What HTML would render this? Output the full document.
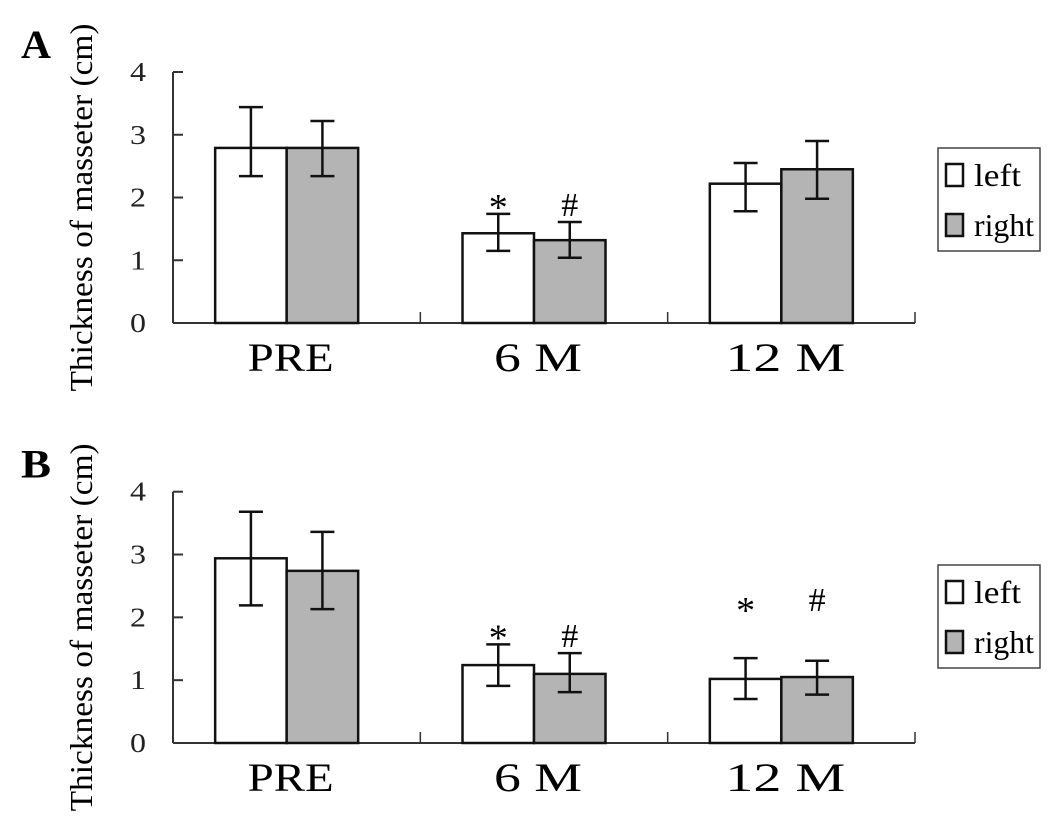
<!DOCTYPE html>
<html><head><meta charset="utf-8"><style>
html,body{margin:0;padding:0;background:#fff}
svg{display:block;font-family:"Liberation Serif",serif}
</style></head><body>
<svg id="chart" width="1048" height="826" viewBox="0 0 1048 826"></svg>
<script>
const categories = ["PRE","6 M","12 M"];
const aLeft = [2.79, 1.43, 2.22];
const aLeftErr = [[2.34,3.44],[1.15,1.74],[1.78,2.55]];
const aRight = [2.79, 1.32, 2.45];
const aRightErr = [[2.34,3.22],[1.04,1.61],[1.98,2.90]];
const aMarks = [["",""],["*","#"],["",""]];
const bLeft = [2.94, 1.24, 1.02];
const bLeftErr = [[2.19,3.68],[0.91,1.57],[0.70,1.35]];
const bRight = [2.74, 1.10, 1.05];
const bRightErr = [[2.13,3.36],[0.81,1.43],[0.77,1.31]];
const bMarks = [["",""],["*","#"],["*","#"]];
const bMarkLevel = [null,null,2.1];
const yTicks = [0,1,2,3,4];

const NS="http://www.w3.org/2000/svg";
const svg=document.getElementById('chart');
function mk(tag,attrs,parent){const e=document.createElementNS(NS,tag);for(const k in attrs)e.setAttribute(k,attrs[k]);(parent||svg).appendChild(e);return e;}
const catLen={"PRE":86,"6 M":88,"12 M":120};

function panel(letter,y0,y4,left,leftErr,right,rightErr,marks,markLevel,legY){
  const g=mk('g',{});
  
  
  const x0=173,x1=915;
  const ys=v=>y0+(y4-y0)*v/4;
  const catW=(x1-x0)/categories.length;
  const barW=71.5;
  const xc=i=>x0+catW*(i+0.5)-10;
  const pl=mk('text',{x:21,y:y4-14,'font-size':40,'font-weight':'bold',textLength:30,lengthAdjust:'spacingAndGlyphs'},g);pl.textContent=letter;
  
  
  const yt=mk('text',{transform:`translate(92,${(y0+y4)/2+10}) rotate(-90)`,'text-anchor':'middle','font-size':32,textLength:368,lengthAdjust:'spacingAndGlyphs'},g);
  yt.textContent='Thickness of masseter (cm)';
  
  
  mk('line',{x1:x0,y1:ys(4),x2:x0,y2:ys(0),stroke:'#333','stroke-width':2},g);
  mk('line',{x1:x0,y1:ys(0),x2:x1,y2:ys(0),stroke:'#333','stroke-width':2},g);
  yTicks.forEach(t=>{
    mk('line',{x1:x0,y1:ys(t),x2:x0+10,y2:ys(t),stroke:'#333','stroke-width':2},g);
    const tx=mk('text',{x:130,y:ys(t)+9,'font-size':27,fill:'#222',textLength:16,lengthAdjust:'spacingAndGlyphs'},g);tx.textContent=t;
    
    
  });
  for(let i=1;i<=categories.length;i++){
    const tx=x0+catW*i;
    mk('line',{x1:tx,y1:ys(0),x2:tx,y2:ys(0)-11,stroke:'#333','stroke-width':1.5},g);
  }
  categories.forEach((c,i)=>{
    const t=mk('text',{x:xc(i)-catLen[c]/2+4,y:ys(0)+48,'font-size':40,textLength:catLen[c],lengthAdjust:'spacingAndGlyphs'},g);t.textContent=c;
    
    
    [[left,leftErr,'#fff',-1],[right,rightErr,'#b4b4b4',0]].forEach(([vals,errs,fill,off],k)=>{
      const bx=xc(i)+off*barW;
      const r=mk('rect',{x:bx,y:ys(vals[i]),width:barW,height:ys(0)-ys(vals[i]),fill:fill,stroke:'#111','stroke-width':2.5},g);
      
      
      const cx=bx+barW/2;
      const e=errs[i];
      mk('line',{x1:cx,y1:ys(e[1]),x2:cx,y2:ys(e[0]),stroke:'#111','stroke-width':2.5},g);
      mk('line',{x1:cx-12,y1:ys(e[1]),x2:cx+12,y2:ys(e[1]),stroke:'#111','stroke-width':2.5},g);
      mk('line',{x1:cx-12,y1:ys(e[0]),x2:cx+12,y2:ys(e[0]),stroke:'#111','stroke-width':2.5},g);
      const m=marks[i][k];
      if(m){
        const my=markLevel&&markLevel[i]!=null?ys(markLevel[i]):ys(e[1])-6;
        const s=mk('text',{x:cx,y:my+(m==='*'?12:0),'text-anchor':'middle','font-size':m==='*'?38:34},g);s.textContent=m;
        
        
      }
    });
  });
  const lg=mk('g',{},g);
  
  
  mk('rect',{x:938,y:legY,width:102,height:103,fill:'#fff',stroke:'#444','stroke-width':1.5},lg);
  [['left','#fff',47],['right','#b4b4b4',60]].forEach(([n,f,w],k)=>{
    const yy=legY+16+k*50;
    mk('rect',{x:946,y:yy,width:17,height:22,fill:f,stroke:'#111','stroke-width':2.5},lg);
    const t=mk('text',{x:974,y:yy+22,'font-size':32,textLength:w,lengthAdjust:'spacingAndGlyphs'},lg);t.textContent=n;
    
    
  });
}
panel('A',323,72,aLeft,aLeftErr,aRight,aRightErr,aMarks,null,148);
panel('B',743,491.7,bLeft,bLeftErr,bRight,bRightErr,bMarks,bMarkLevel,565);
</script>
</body></html>
